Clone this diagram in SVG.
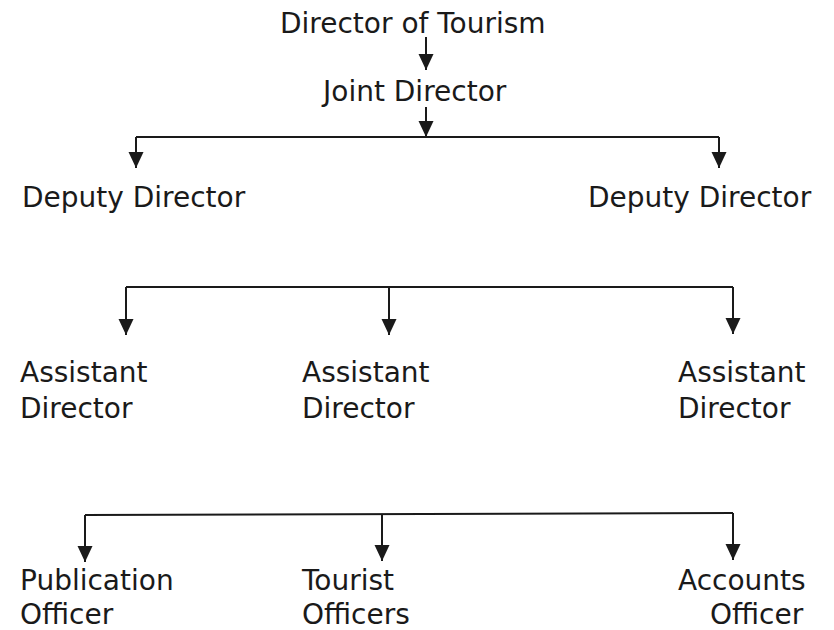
<svg xmlns="http://www.w3.org/2000/svg" width="834" height="630" viewBox="0 0 834 630">
<style>
  text { font-family: "DejaVu Sans", Verdana, sans-serif; font-size: 28px; fill: #1a1a1a; }
  .c { fill: none; stroke: #1a1a1a; stroke-width: 2; }
</style>
<defs>
  <marker id="ah" markerUnits="userSpaceOnUse" markerWidth="17" markerHeight="16" refX="16" refY="7.5" orient="auto" viewBox="0 0 17 15">
    <path d="M0,0 L16,7.5 L0,15 z" fill="#1a1a1a"/>
  </marker>
</defs>
<rect width="834" height="630" fill="#ffffff"/>
<g id="connectors">
  <path class="c" d="M426,37 V70" marker-end="url(#ah)"/>
  <path class="c" d="M426,107 V137" marker-end="url(#ah)"/>
  <path class="c" d="M136,137 H719"/>
  <path class="c" d="M136,137 V168" marker-end="url(#ah)"/>
  <path class="c" d="M719,137 V168" marker-end="url(#ah)"/>
  <path class="c" d="M126,287 H733"/>
  <path class="c" d="M126,287 V335" marker-end="url(#ah)"/>
  <path class="c" d="M389,287 V335" marker-end="url(#ah)"/>
  <path class="c" d="M733,287 V334" marker-end="url(#ah)"/>
  <path class="c" d="M85,515 L733,513"/>
  <path class="c" d="M85,515 V562" marker-end="url(#ah)"/>
  <path class="c" d="M382,514 V561" marker-end="url(#ah)"/>
  <path class="c" d="M733,513 V560" marker-end="url(#ah)"/>
</g>
<g id="director-of-tourism"><text x="280" y="33">Director of Tourism</text></g>
<g id="joint-director"><text x="323" y="101">Joint Director</text></g>
<g id="deputy-director-left"><text x="22" y="207">Deputy Director</text></g>
<g id="deputy-director-right"><text x="588" y="207">Deputy Director</text></g>
<g id="assistant-director-1"><text x="20" y="382">Assistant</text><text x="20" y="418">Director</text></g>
<g id="assistant-director-2"><text x="302" y="382">Assistant</text><text x="302" y="418">Director</text></g>
<g id="assistant-director-3"><text x="678" y="382">Assistant</text><text x="678" y="418">Director</text></g>
<g id="publication-officer"><text x="20" y="590">Publication</text><text x="20" y="624">Officer</text></g>
<g id="tourist-officers"><text x="302" y="590">Tourist</text><text x="302" y="624">Officers</text></g>
<g id="accounts-officer"><text x="678" y="590">Accounts</text><text x="710" y="624">Officer</text></g>
</svg>
